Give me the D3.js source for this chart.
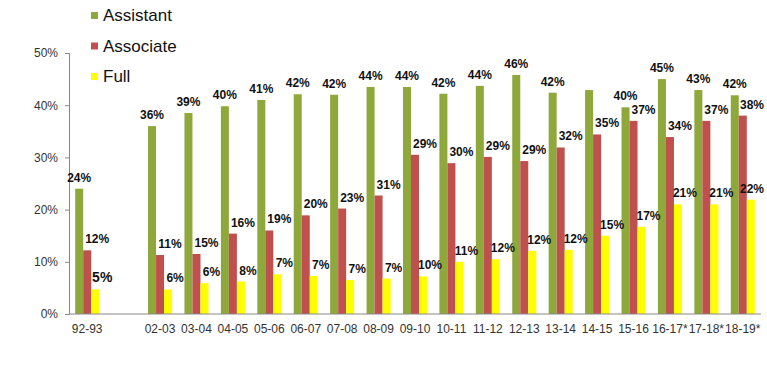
<!DOCTYPE html>
<html>
<head>
<meta charset="utf-8">
<script src="https://cdn.jsdelivr.net/npm/d3@7"></script>
<style>
    body { margin: 0; background: #fff; }
    svg { display: block; font-family: "Liberation Sans", Arial, sans-serif; }
    .tick-label { font-size: 12px; fill: #333; }
    .value-label { font-size: 12px; font-weight: bold; fill: #111; }
    .legend-label { font-size: 17px; fill: #111; }
</style>
</head>
<body>
<svg id="chart" width="767" height="373"></svg>
<script>
(function (d3) {
    'use strict';

    // one empty slot between 92-93 and 02-03
    var categories = ['92-93', '', '02-03', '03-04', '04-05', '05-06', '06-07', '07-08', '08-09',
        '09-10', '10-11', '11-12', '12-13', '13-14', '14-15', '15-16', '16-17*', '17-18*', '18-19*'];
    var seriesNames = ['Assistant', 'Associate', 'Full'];
    var seriesColors = ['#8fa83c', '#c0504d', '#ffff00'];

    // bar heights (%) as drawn
    var assistant = [24, null, 36, 38.5, 39.8, 41, 42.1, 42, 43.5, 43.5, 42.2, 43.7, 45.8, 42.4, 42.9, 39.6, 45, 42.9, 41.9];
    var associate = [12.2, null, 11.3, 11.5, 15.4, 16, 18.9, 20.2, 22.7, 30.5, 28.9, 30.1, 29.3, 31.9, 34.4, 37, 33.9, 37, 38];
    var full = [4.7, null, 4.7, 5.9, 6.2, 7.6, 7.3, 6.5, 6.8, 7.2, 10, 10.5, 12.1, 12.3, 15, 16.7, 21, 21, 21.9];

    // data label texts as printed
    var assistantLabels = ['24%', '', '36%', '39%', '40%', '41%', '42%', '42%', '44%', '44%', '42%', '44%', '46%', '42%', '', '40%', '45%', '43%', '42%'];
    var associateLabels = ['12%', '', '11%', '15%', '16%', '19%', '20%', '23%', '31%', '29%', '30%', '29%', '29%', '32%', '35%', '37%', '34%', '37%', '38%'];
    var fullLabels = ['5%', '', '6%', '6%', '8%', '7%', '7%', '7%', '7%', '10%', '11%', '12%', '12%', '12%', '15%', '17%', '21%', '21%', '22%'];

    var yTicks = [0, 10, 20, 30, 40, 50];

    var seriesValues = [assistant, associate, full],
        seriesLabels = [assistantLabels, associateLabels, fullLabels],
        labelShift = [0, 10, 7],
        width = 767,
        svg = d3.select('#chart'),
        left = 69,
        right = 761,
        top = 53,
        bottom = 314;

    var x0 = d3.scaleBand()
        .domain(d3.range(categories.length))
        .range([left, right])
        .paddingInner(0.34)
        .paddingOuter(0.17);
    var x1 = d3.scaleBand()
        .domain(seriesNames)
        .range([0, x0.bandwidth()]);
    var y = d3.scaleLinear()
        .domain([0, 50])
        .range([bottom, top]);

    // y axis
    var yAxis = svg.append('g')
        .attr('transform', 'translate(' + left + ',0)')
        .call(d3.axisLeft(y).tickValues(yTicks).tickSize(4).tickPadding(7)
            .tickFormat(function (d) { return d + '%'; }));
    yAxis.select('.domain').attr('stroke', '#888');
    yAxis.selectAll('.tick line').attr('stroke', '#888');
    yAxis.selectAll('.tick text').attr('class', 'tick-label').attr('fill', null).attr('font-size', null)
        .attr('font-family', null);

    // bars
    seriesNames.forEach(function (name, s) {
        var rows = categories.map(function (c, i) {
            return { i: i, v: seriesValues[s][i], label: seriesLabels[s][i] };
        }).filter(function (d) { return d.v !== null; });

        svg.append('g').selectAll('rect')
            .data(rows)
            .enter().append('rect')
            .attr('x', function (d) { return x0(d.i) + x1(name); })
            .attr('y', function (d) { return y(d.v); })
            .attr('width', x1.bandwidth())
            .attr('height', function (d) { return bottom - y(d.v); })
            .attr('fill', seriesColors[s]);

        svg.append('g').selectAll('text')
            .data(rows.filter(function (d) { return d.label; }))
            .enter().append('text')
            .attr('class', 'value-label')
            .attr('text-anchor', 'middle')
            .attr('x', function (d) {
                var cx = x0(d.i) + x1(name) + x1.bandwidth() / 2 + labelShift[s];
                return Math.min(cx, width - 15);
            })
            .attr('y', function (d) { return y(d.v) - 7; })
            .style('font-size', function (d) { return (s === 2 && d.i === 0) ? '14px' : null; })
            .text(function (d) { return d.label; });
    });

    // x axis line
    svg.append('line')
        .attr('x1', left).attr('x2', right)
        .attr('y1', bottom).attr('y2', bottom)
        .attr('stroke', '#888');

    svg.append('g').selectAll('text')
        .data(categories.map(function (c, i) { return { i: i, c: c }; }))
        .enter().append('text')
        .attr('class', 'tick-label')
        .attr('text-anchor', 'middle')
        .attr('x', function (d) { return x0(d.i) + x0.bandwidth() / 2; })
        .attr('y', 333)
        .text(function (d) { return d.c; });

    // legend
    var legend = svg.append('g').selectAll('g')
        .data(seriesNames)
        .enter().append('g')
        .attr('transform', function (d, i) { return 'translate(91,' + (21 + i * 30.5) + ')'; });
    legend.append('rect')
        .attr('x', 0).attr('y', -9)
        .attr('width', 7).attr('height', 7)
        .attr('fill', function (d, i) { return seriesColors[i]; });
    legend.append('text')
        .attr('class', 'legend-label')
        .attr('x', 12)
        .text(function (d) { return d; });
}(window.d3));
</script>
</body>
</html>
